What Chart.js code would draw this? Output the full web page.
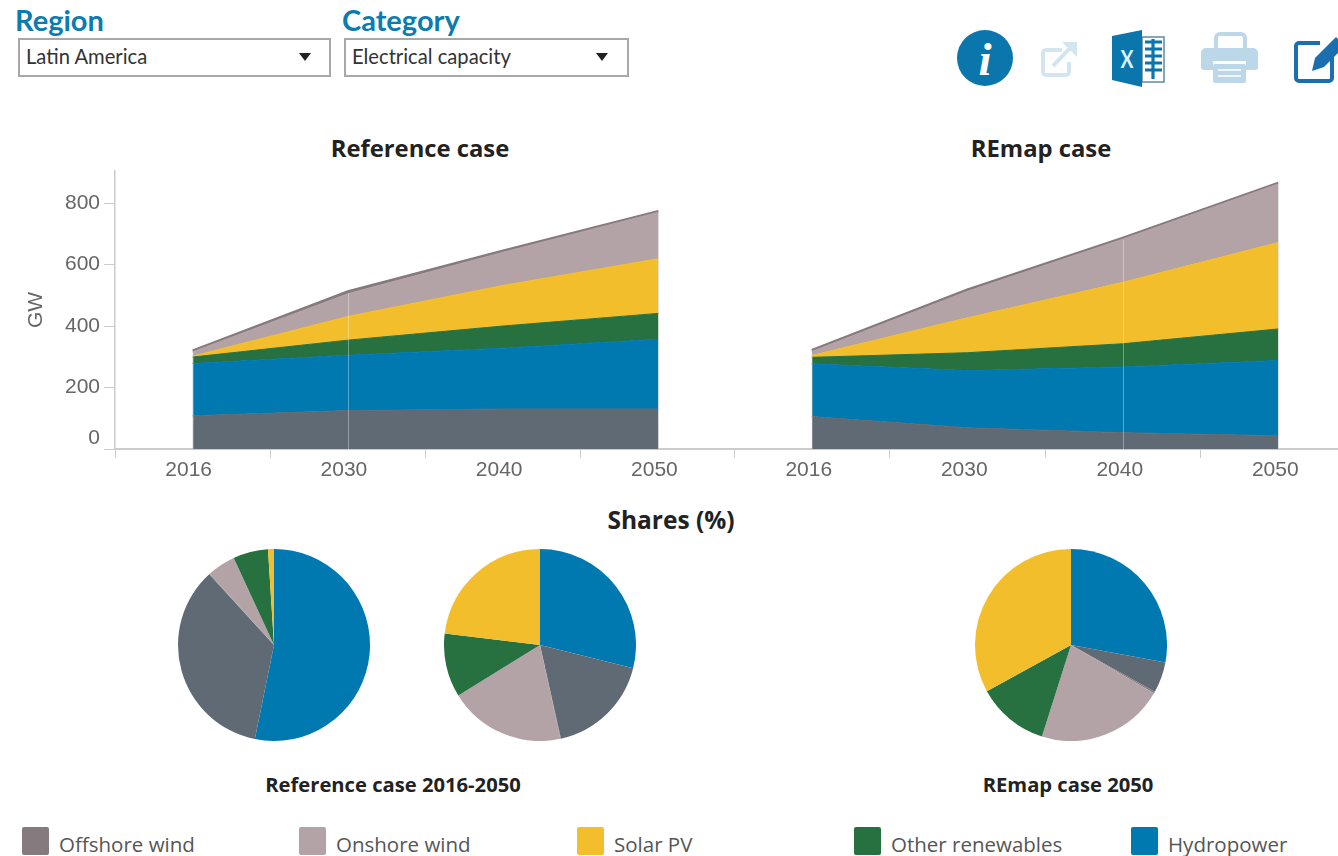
<!DOCTYPE html>
<html><head><meta charset="utf-8">
<script src="https://cdn.jsdelivr.net/npm/chart.js@4"></script>
<style>
html,body{margin:0;padding:0;background:#fff;width:1338px;height:856px;overflow:hidden;position:relative}
.a{position:absolute;white-space:nowrap}
.hd{font:bold 29px Lato,sans-serif;color:#0a7cb0;top:3px;line-height:34px}
.sel{box-sizing:border-box;top:38px;height:39px;border:2px solid #a8a8a8;font:20.2px Lato,sans-serif;color:#333;line-height:33px;padding-left:6px;background:#fff}
.sel i{position:absolute;top:13px;width:0;height:0;border-left:6.5px solid transparent;border-right:6.5px solid transparent;border-top:8px solid #222}
.ttl{font:bold 23.8px "Open Sans",sans-serif;color:#222;transform:translateX(-50%);line-height:30px}
.sub{font:bold 20.2px "Open Sans",sans-serif;color:#222;transform:translateX(-50%) scaleY(0.95);line-height:24px;top:772px}
.sw{top:827px;width:27px;height:28px;border-radius:2px}
.lg{top:830px;font:20.5px "Open Sans",sans-serif;color:#555;line-height:28px}
canvas{position:absolute;display:block}
#clipL{position:absolute;left:0;top:156px;width:734px;height:334px;overflow:hidden}
#clip{position:absolute;left:734px;top:160px;width:604px;height:330px;overflow:hidden}
</style></head><body>
<div class="a hd" style="left:15px">Region</div>
<div class="a hd" style="left:342px">Category</div>
<div class="a sel" style="left:18px;width:313px">Latin America<i style="left:279px"></i></div>
<div class="a sel" style="left:344px;width:285px">Electrical capacity<i style="left:250px"></i></div>

<svg class="a" style="left:0;top:0" width="1338" height="100" viewBox="0 0 1338 100">
  <circle cx="985" cy="58" r="28" fill="#0a76ab"/>
  <text x="985" y="75" text-anchor="middle" font-family="Liberation Serif" font-style="italic" font-weight="bold" font-size="47" fill="#fff">i</text>
  <g fill="none" stroke="#d3e6f0" stroke-width="4">
    <path d="M1062 50h-16a3 3 0 0 0-3 3v19a3 3 0 0 0 3 3h20a3 3 0 0 0 3-3v-10"/>
    <path d="M1053 66l18-19"/>
  </g>
  <path d="M1062 42h15v15z" fill="#d3e6f0"/>
  <rect x="1142" y="37" width="22" height="45" fill="#fff" stroke="#5f8aa0" stroke-width="1.5"/>
  <path d="M1145 42h17M1145 49h17M1145 56h17M1145 63h17M1145 70h17M1153 39v40" stroke="#0a76ab" stroke-width="3.2" fill="none"/>
  <path d="M1112 36L1142 30V87L1112 80Z" fill="#0a76ab"/>
  <text x="1127" y="68" text-anchor="middle" font-family="Lato" font-weight="bold" font-size="25" fill="#dff0f7" textLength="13" lengthAdjust="spacingAndGlyphs">X</text>
  <path d="M1216 48V38a4 4 0 0 1 4-4h21a4 4 0 0 1 4 4v10" fill="none" stroke="#bcd8e8" stroke-width="4"/>
  <path d="M1205 48h48a5 5 0 0 1 5 5v14a3 3 0 0 1-3 3h-9v-9h-33v9h-9a3 3 0 0 1-3-3V53a5 5 0 0 1 5-5z" fill="#bcd8e8"/>
  <rect x="1213" y="64" width="33" height="19" rx="2" fill="#bcd8e8"/>
  <path d="M1218 70h23M1218 76h23" stroke="#fff" stroke-width="1.6"/>
  <path d="M1320 43h-21a3 3 0 0 0-3 3v32a3 3 0 0 0 3 3h30a3 3 0 0 0 3-3v-22" fill="none" stroke="#1b6fae" stroke-width="4"/>
  <path d="M1312 71l3-13 21-21 9 9-21 21z" fill="#1b6fae"/>
</svg>

<div class="a ttl" style="left:420px;top:133px">Reference case</div>
<div class="a ttl" style="left:1041px;top:133px">REmap case</div>
<div class="a ttl" style="left:671px;top:505px;font-size:24.5px">Shares (%)</div>

<div id="clipL"><canvas id="refArea" width="736" height="334" style="left:0;top:0"></canvas></div>
<div id="clip"><canvas id="remapArea" width="622" height="330" style="left:0;top:0"></canvas></div>

<canvas id="pie2016" width="192" height="192" style="left:178px;top:549px"></canvas>
<canvas id="pie2050" width="192" height="192" style="left:444px;top:549px"></canvas>
<canvas id="pieRemap" width="192" height="192" style="left:975px;top:549px"></canvas>

<div class="a sub" style="left:393px">Reference case 2016-2050</div>
<div class="a sub" style="left:1068px">REmap case 2050</div>

<div id="legend"></div>

<script>
const years = ['2016','2030','2040','2050'];
const seriesNames = ['Non-renewables','Hydropower','Other renewables','Solar PV','Onshore wind','Offshore wind'];
const seriesColors = ['#5f6a75','#0079b0','#27703f','#f3be2b','#b3a3a6','#857a7e'];

const refNonRenewables = [108,125,130,130];
const refHydropower    = [170,180,198,227];
const refOtherRen      = [21,49,72,84];
const refSolarPV       = [3,77,132,178];
const refOnshoreWind   = [14,74,108,151];
const refOffshoreWind  = [4,7,5,3];

const remapNonRenewables = [105,69,53,43];
const remapHydropower    = [171,185,213,244];
const remapOtherRen      = [21,58,75,102];
const remapSolarPV       = [6,113,199,280];
const remapOnshoreWind   = [13,86,140,190];
const remapOffshoreWind  = [4,5,4,3];

const pieOrder  = ['Hydropower','Non-renewables','Offshore wind','Onshore wind','Other renewables','Solar PV'];
const pieColors = ['#0079b0','#5f6a75','#857a7e','#b3a3a6','#27703f','#f3be2b'];
const shareRef2016   = [53.2,35.0,0.1,4.8,5.9,1.0];
const shareRef2050   = [28.9,17.6,0.1,19.6,10.7,23.1];
const shareRemap2050 = [27.9,5.2,0.3,21.5,12.1,33.0];

const legendNames  = ['Offshore wind','Onshore wind','Solar PV','Other renewables','Hydropower'];
const legendColors = ['#857a7e','#b3a3a6','#f3be2b','#27703f','#0079b0'];
const legendLefts  = [22,299,577,854,1131];
const yTicks = [0,200,400,600,800];

const legendEl = document.getElementById('legend');
legendNames.forEach((n,i)=>{
  legendEl.insertAdjacentHTML('beforeend',
    `<div class="a sw" style="left:${legendLefts[i]}px;background:${legendColors[i]}"></div>`+
    `<div class="a lg" style="left:${legendLefts[i]+37}px">${n}</div>`);
});

const guides = {
  id:'guides',
  afterDatasetsDraw(chart,args,opts){
    const {ctx,scales:{x,y}} = chart;
    const tops = years.map((_,i)=>chart.data.datasets.reduce((s,d)=>s+d.data[i],0));
    ctx.save();
    years.forEach((yr,i)=>{
      const isHi = yr===opts.highlight;
      if(!isHi && i!==0 && i!==years.length-1) return;
      const px = Math.round(x.getPixelForValue(i))+0.5;
      ctx.strokeStyle = isHi ? 'rgba(255,255,255,0.35)' : 'rgba(190,190,190,0.4)';
      ctx.lineWidth = 1;
      ctx.beginPath();
      ctx.moveTo(px,y.getPixelForValue(tops[i])+2);
      ctx.lineTo(px,y.getPixelForValue(0));
      ctx.stroke();
    });
    ctx.restore();
  }
};

function areaChart(id,rows,highlight,showY,labelShift){
  const datasets = rows.map((row,i)=>({
    label:seriesNames[i], data:row,
    backgroundColor:seriesColors[i], borderColor:seriesColors[i],
    borderWidth:i===5?2.5:1, pointRadius:0, tension:0,
    fill:i===0?'origin':'-1'
  }));
  return new Chart(document.getElementById(id),{
    type:'line',
    data:{labels:years,datasets},
    plugins:[guides],
    options:{
      responsive:false,animation:false,devicePixelRatio:1,
      layout:{padding:{top:10,left:0,right:0,bottom:0}},
      plugins:{legend:{display:false},tooltip:{enabled:false},guides:{highlight}},
      events:[],
      scales:{
        x:{
          type:'category',offset:true,
          grid:{offset:true,drawOnChartArea:false,drawTicks:true,tickLength:9,tickColor:'#cccccc',tickWidth:1},
          border:{display:true,color:'#cccccc',width:2},
          ticks:{color:'#666',font:{family:'Liberation Sans',size:21,lineHeight:1.2},padding:0,labelOffset:labelShift,maxRotation:0,autoSkip:false},
          afterFit(s){s.height=41;}
        },
        y:{
          display:showY,stacked:true,min:0,max:904,
          afterFit(s){s.width=showY?115:0;},
          grid:{drawOnChartArea:false,drawTicks:true,tickLength:11,tickColor:'#cccccc',tickWidth:1},
          border:{display:true,color:'#cccccc',width:1.5},
          title:{display:true,text:'GW',color:'#666',font:{family:'Liberation Sans',size:21},padding:{top:24,bottom:0}},
          afterBuildTicks(s){s.ticks=yTicks.map(v=>({value:v}));},
          ticks:{color:'#666',font:{family:'Liberation Sans',size:21,lineHeight:1.05},padding:4,includeBounds:false,
            callback:v=>v===0?['0','']:String(v)}
        }
      }
    }
  });
}
areaChart('refArea',[refNonRenewables,refHydropower,refOtherRen,refSolarPV,refOnshoreWind,refOffshoreWind],'2030',true,-4);
areaChart('remapArea',[remapNonRenewables,remapHydropower,remapOtherRen,remapSolarPV,remapOnshoreWind,remapOffshoreWind],'2040',false,-3);

function pie(id,vals){
  new Chart(document.getElementById(id),{
    type:'pie',
    data:{labels:pieOrder,datasets:[{data:vals,backgroundColor:pieColors,borderWidth:0,hoverOffset:0}]},
    options:{responsive:false,animation:false,devicePixelRatio:1,events:[],
      layout:{padding:0},
      plugins:{legend:{display:false},tooltip:{enabled:false}}}
  });
}
pie('pie2016',shareRef2016);
pie('pie2050',shareRef2050);
pie('pieRemap',shareRemap2050);
</script>
</body></html>
